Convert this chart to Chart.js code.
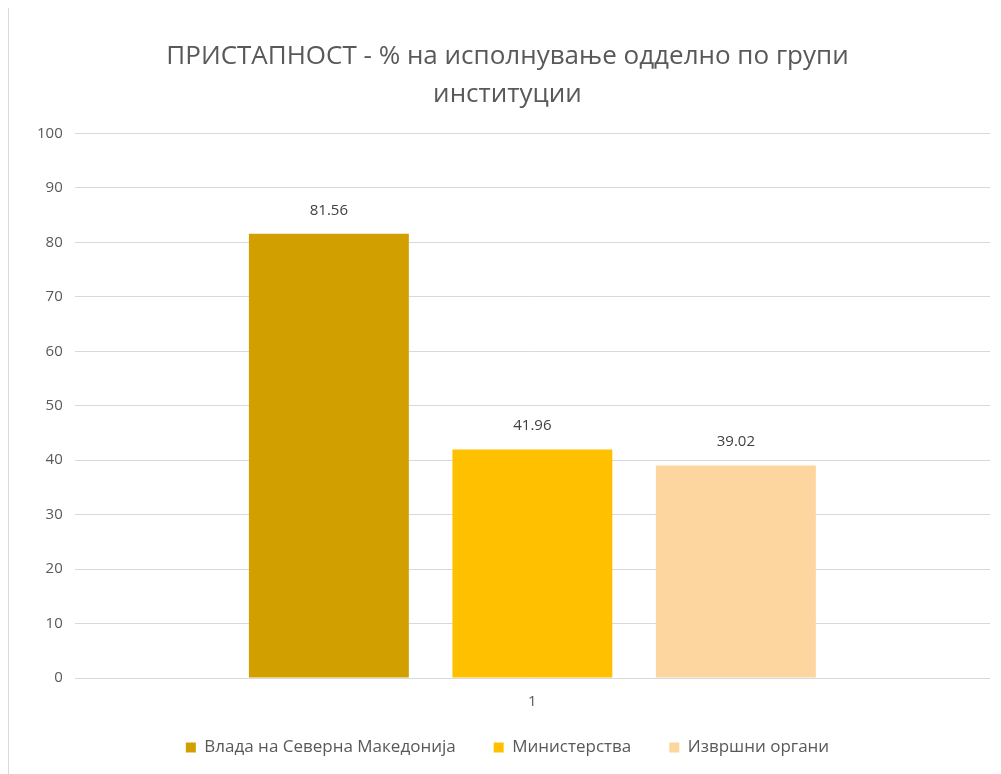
<!DOCTYPE html>
<html>
<head>
<meta charset="utf-8">
<script src="https://cdn.jsdelivr.net/npm/chart.js@4"></script>
<style>
    html, body { margin: 0; padding: 0; background: #fff; }
    #wrap { position: relative; width: 1001px; height: 774px; }
    #edge { position: absolute; left: 8px; top: 8px; bottom: 0; border-left: 1px solid #d9d9d9; }
    canvas { position: absolute; left: 0; top: 0; }
</style>
</head>
<body>
<div id="wrap">
    <canvas id="chart" width="1001" height="774"></canvas>
    <div id="edge"></div>
</div>
<script>
const categories = ['1'];
const seriesNames = ['Влада на Северна Македонија', 'Министерства', 'Извршни органи'];
const seriesValues = [[81.56], [41.96], [39.02]];
const seriesColors = ['#D29F00', '#FFC000', '#FDD59E'];
const yTicks = [0, 10, 20, 30, 40, 50, 60, 70, 80, 90, 100];

const fontFamily = '"Open Sans", "Noto Sans", sans-serif';
const textColor = '#595959';

// draws the value above each bar
const valueLabels = {
    id: 'valueLabels',
    afterDatasetsDraw(chart) {
        const ctx = chart.ctx;
        ctx.save();
        ctx.font = '15px ' + fontFamily;
        ctx.fillStyle = '#404040';
        ctx.textAlign = 'center';
        ctx.textBaseline = 'bottom';
        chart.data.datasets.forEach((ds, i) => {
            chart.getDatasetMeta(i).data.forEach((bar, j) => {
                ctx.fillText(ds.data[j].toFixed(2), bar.x, bar.y - 16);
            });
        });
        ctx.restore();
    }
};

const ctx = document.getElementById('chart').getContext('2d');
new Chart(ctx, {
    type: 'bar',
    data: {
        labels: categories,
        datasets: seriesNames.map((name, i) => ({
            label: name,
            data: seriesValues[i],
            backgroundColor: seriesColors[i],
            categoryPercentage: 0.667,
            barPercentage: 0.786
        }))
    },
    options: {
        responsive: false,
        animation: false,
        layout: { padding: { left: 25, right: 11, top: 38, bottom: 8 } },
        plugins: {
            title: {
                display: true,
                text: ['ПРИСТАПНОСТ - % на исполнување одделно по групи', 'институции'],
                color: textColor,
                font: { family: fontFamily, size: 26, weight: 'normal', lineHeight: 1.45 },
                padding: { top: 0, bottom: 20 }
            },
            legend: {
                position: 'bottom',
                labels: {
                    color: textColor,
                    font: { family: fontFamily, size: 17 },
                    boxWidth: 10,
                    boxHeight: 10,
                    padding: 21,
                    // wider gaps between the items, like the original
                    generateLabels: chart => {
                        const items = Chart.defaults.plugins.legend.labels.generateLabels(chart);
                        return items.map((item, i) => i < items.length - 1
                            ? { ...item, text: item.text + '\u2002\u2002' }
                            : item);
                    }
                }
            },
            tooltip: { enabled: false }
        },
        scales: {
            x: {
                grid: { display: false },
                border: { display: false },
                ticks: { color: textColor, font: { family: fontFamily, size: 15 }, padding: 7 }
            },
            y: {
                min: 0,
                max: 100,
                afterBuildTicks: axis => { axis.ticks = yTicks.map(v => ({ value: v })); },
                grid: { color: '#d9d9d9', drawTicks: false },
                border: { display: false },
                ticks: { color: textColor, font: { family: fontFamily, size: 15 }, padding: 12 }
            }
        }
    },
    plugins: [valueLabels]
});
</script>
</body>
</html>
